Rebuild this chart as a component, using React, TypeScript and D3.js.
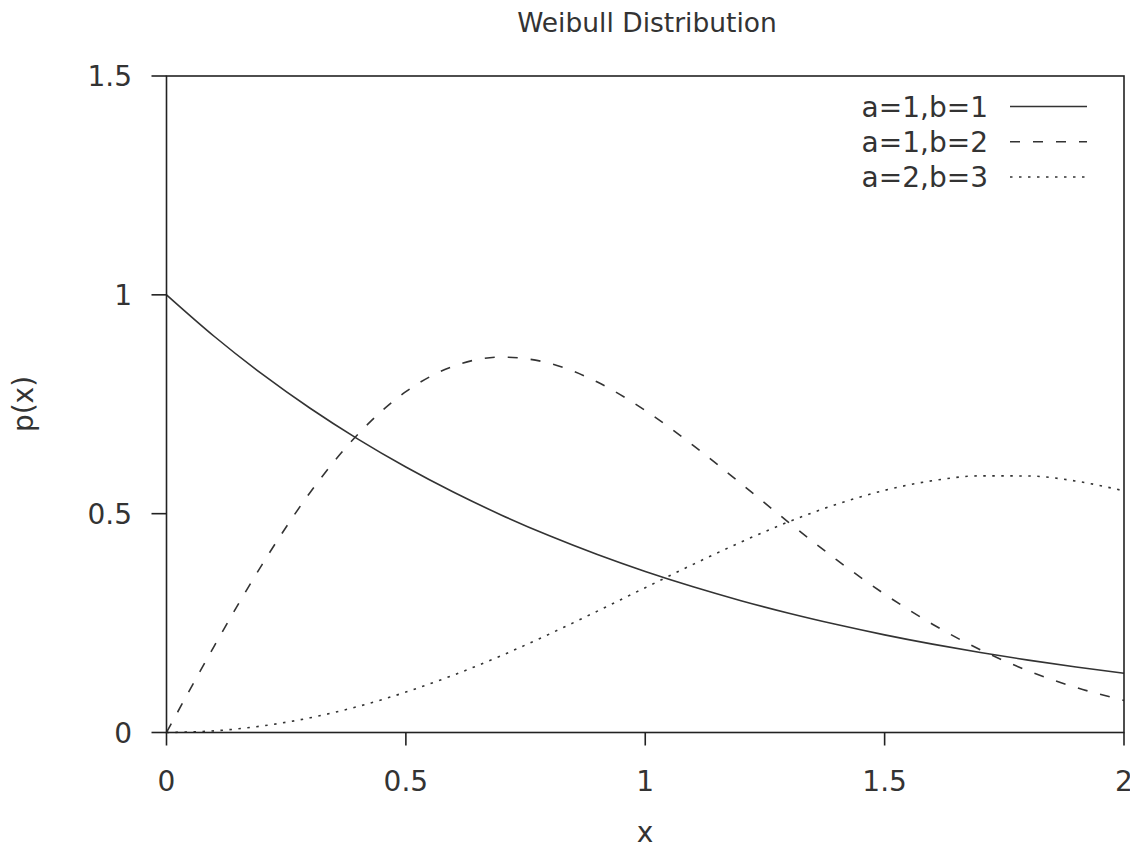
import React from "react";
import * as d3 from "d3";

const xs = [0, 0.1, 0.2, 0.3, 0.4, 0.5, 0.6, 0.7, 0.8, 0.9, 1.0, 1.1, 1.2, 1.3, 1.4, 1.5, 1.6, 1.7, 1.8, 1.9, 2.0];
const seriesA1B1 = [1.0, 0.9048, 0.8187, 0.7408, 0.6703, 0.6065, 0.5488, 0.4966, 0.4493, 0.4066, 0.3679, 0.3329, 0.3012, 0.2725, 0.2466, 0.2231, 0.2019, 0.1827, 0.1653, 0.1496, 0.1353];
const seriesA1B2 = [0, 0.198, 0.3843, 0.5484, 0.6817, 0.7788, 0.8372, 0.8577, 0.8437, 0.8007, 0.7358, 0.656, 0.5686, 0.4798, 0.3944, 0.3162, 0.2474, 0.189, 0.141, 0.1028, 0.0733];
const seriesA2B3 = [0, 0.00375, 0.015, 0.0336, 0.0595, 0.0923, 0.1314, 0.176, 0.2251, 0.2773, 0.3309, 0.3842, 0.4351, 0.4816, 0.5216, 0.5533, 0.5753, 0.5864, 0.5861, 0.5744, 0.552];
const seriesLabels = ["a=1,b=1", "a=1,b=2", "a=2,b=3"];
const xTicks = [0, 0.5, 1, 1.5, 2];
const yTicks = [0, 0.5, 1, 1.5];

const FONT = "'DejaVu Sans', sans-serif";

export default function App() {
  const W = 1130, H = 846;
  const left = 166.5, right = 1124, top = 76, bottom = 732.5;
  const x = d3.scaleLinear().domain([0, 2]).range([left, right]);
  const y = d3.scaleLinear().domain([0, 1.5]).range([bottom, top]);
  const line = d3
    .line<number>()
    .x((_, i) => x(xs[i]))
    .y((d) => y(d))
    .curve(d3.curveMonotoneX);

  const series = [seriesA1B1, seriesA1B2, seriesA2B3];
  const dashes = ["none", "10,13", "2.5,6.5"];
  const legendY = [106.5, 141.8, 177];
  const textColor = "#333";
  const lineColor = "#333";

  return (
    <svg width={W} height={H} style={{ position: "absolute", left: 0, top: 0, background: "#fff" }}>
      <rect x={0} y={0} width={W} height={H} fill="#fff" />
      <text x={647} y={31.5} textAnchor="middle" fontFamily={FONT} fontSize={26.5} fill={textColor}>
        Weibull Distribution
      </text>
      {series.map((s, i) => (
        <path
          key={i}
          d={line(s) || ""}
          fill="none"
          stroke={lineColor}
          strokeWidth={1.6}
          strokeDasharray={dashes[i]}
        />
      ))}
      <rect x={left} y={top} width={right - left} height={bottom - top} fill="none" stroke="#222" strokeWidth={1.6} />
      {yTicks.map((t) => (
        <g key={"y" + t}>
          <line x1={left - 15} x2={left} y1={y(t)} y2={y(t)} stroke="#222" strokeWidth={1.6} />
          <text x={132} y={y(t) + 10} textAnchor="end" fontFamily={FONT} fontSize={28} fill={textColor}>
            {d3.format("")(t)}
          </text>
        </g>
      ))}
      {xTicks.map((t) => (
        <g key={"x" + t}>
          <line x1={x(t)} x2={x(t)} y1={bottom} y2={bottom + 13} stroke="#222" strokeWidth={1.6} />
          <text x={x(t)} y={790.5} textAnchor="middle" fontFamily={FONT} fontSize={28} fill={textColor}>
            {d3.format("")(t)}
          </text>
        </g>
      ))}
      <text x={645} y={841.5} textAnchor="middle" fontFamily={FONT} fontSize={28} fill={textColor}>
        x
      </text>
      <text
        transform="translate(33,404) rotate(-90)"
        textAnchor="middle"
        fontFamily={FONT}
        fontSize={28}
        fill={textColor}
      >
        p(x)
      </text>
      {seriesLabels.map((lab, i) => (
        <g key={lab}>
          <text x={988} y={legendY[i] + 10} textAnchor="end" fontFamily={FONT} fontSize={28} fill={textColor}>
            {lab}
          </text>
          <line
            x1={1010}
            x2={1087}
            y1={legendY[i]}
            y2={legendY[i]}
            stroke={lineColor}
            strokeWidth={1.6}
            strokeDasharray={dashes[i]}
          />
        </g>
      ))}
    </svg>
  );
}
